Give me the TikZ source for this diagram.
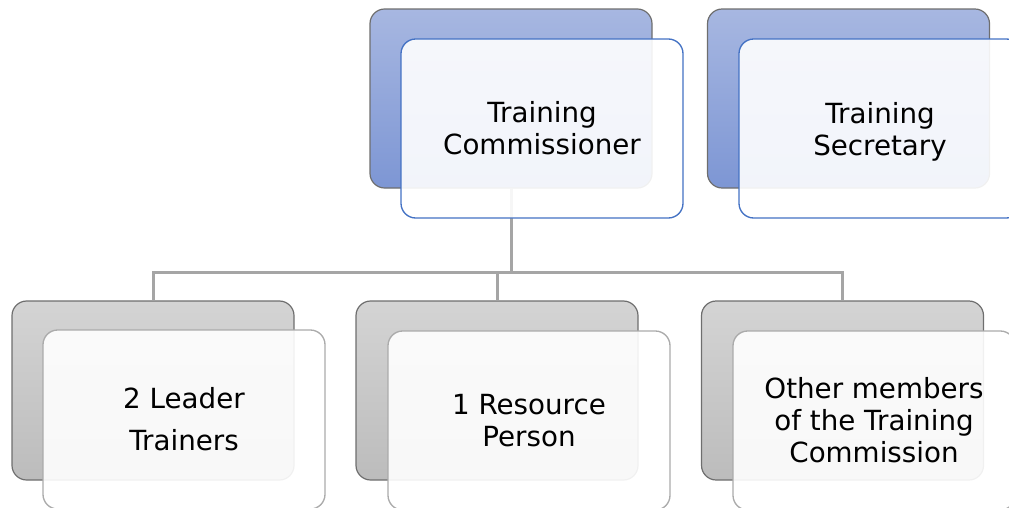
\documentclass[tikz,border=0pt]{standalone}
\usepackage{fontspec}
\setmainfont{DejaVu Sans}
\definecolor{bluetop}{HTML}{A7B7E1}
\definecolor{bluebot}{HTML}{7D96D4}
\definecolor{graytop}{HTML}{D4D4D4}
\definecolor{graybot}{HTML}{BCBCBC}
\definecolor{backline}{HTML}{6E6E6E}
\definecolor{frontblue}{HTML}{4472C4}
\definecolor{frontgray}{HTML}{ABABAB}
\definecolor{connline}{HTML}{A5A5A5}
\tikzset{
  boxbase/.style={rectangle, rounded corners=11pt, minimum width=211.5pt, minimum height=134.25pt, inner sep=0pt},
  backblue/.style={boxbase, draw=backline, line width=0.9pt, top color=bluetop, bottom color=bluebot},
  backgray/.style={boxbase, draw=backline, line width=0.9pt, top color=graytop, bottom color=graybot},
  frontbox/.style={boxbase, fill=white, fill opacity=0.9, text opacity=1, line width=1pt, align=center,
     font=\fontsize{20.8}{24}\selectfont},
  frontb/.style={frontbox, draw=frontblue},
  frontg/.style={frontbox, draw=frontgray},
  conn/.style={draw=connline, line width=2.25pt}
}
\begin{document}
\begin{tikzpicture}[x=0.75pt,y=-0.75pt]
\useasboundingbox (0,0) rectangle (1009,507);
\clip (0,0) rectangle (1009,507);
% back boxes
\node[backblue] (tcb) at (511,98.5) {};
\node[backblue] (tsb) at (848.5,98.5) {};
\node[backgray] (lb) at (153,390.5) {};
\node[backgray] (mb) at (497,390.5) {};
\node[backgray] (ob) at (842.5,390.5) {};
% connectors
\coordinate (j) at (511,272);
\draw[conn] (tcb.south) -- (j);
\draw[conn] (j) -| (lb.north);
\draw[conn] (j) -| (mb.north);
\draw[conn] (j) -| (ob.north);
% front boxes
\node[frontb] (tc) at (542,128.5) {Training\\Commissioner};
\node[frontb] (ts) at (880,128.5) {Training\\\smash{Secretary}};
\node[frontg] (lt) at (184,419.5) {2 Leader\\[7.5pt]Trainers};
\node[frontg] (rp) at (529,420.5) {1 Resource\\Person};
\node[frontg] (om) at (874,420.5) {Other members\\of the Training\\Commission};
\end{tikzpicture}
\end{document}
